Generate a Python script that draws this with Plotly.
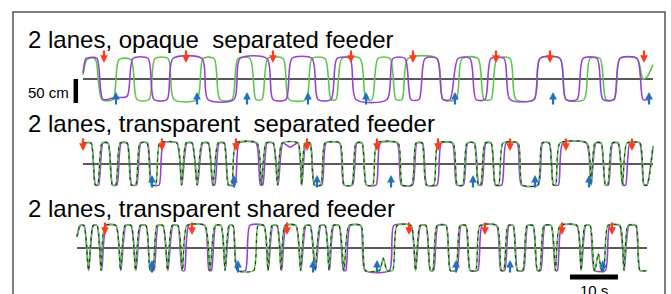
import plotly.graph_objects as go

# ---------------- data (time in s, lane position normalised: +1 far end, -1 near end) -------------
P1_GREEN = [(1.25, 0.2), (2.08, 0.95), (3.33, 1.05), (3.96, 0.9), (5.21, -1), (7.5, -1), (8.75, 0.95), (11.25, 0.95),
            (12.5, -1), (15.0, -1), (16.25, 1), (18.96, 1), (20.21, -1), (25.0, -1), (26.25, 1), (28.54, 1),
            (29.79, -1), (32.29, -1), (33.54, 1), (36.04, 1), (37.29, -1), (38.54, -1), (39.79, 1), (42.92, 1),
            (44.17, -1), (47.71, -1), (48.96, 1), (51.67, 1), (52.92, -1), (53.96, -1), (55.21, 1), (58.96, 1),
            (60.21, -1), (61.46, -1), (62.71, 1), (65.21, 1), (66.46, -1), (67.71, -1), (68.96, 1), (75.0, 1),
            (76.25, -1), (78.96, -1), (80.21, 1), (83.54, 1), (84.79, -1), (86.25, -1), (87.5, 1), (90.21, 1),
            (91.46, -1), (95.21, -1), (96.46, 1), (100.62, 1), (101.87, -1), (105.62, -1), (106.87, 1), (108.96, 1),
            (110.21, -1), (111.87, -1), (113.12, 1), (116.67, 1), (117.92, 0.0), (118.75, 0.1), (120.0, 0.7)]
P1_PURPLE = [(1.25, 0.3), (1.87, 1.0), (2.71, 1.05), (4.17, 1.0), (5.42, -1), (7.92, -0.9), (10.42, -0.85),
             (11.67, 1), (14.79, 1), (16.04, -1), (18.75, -1), (20.0, 1), (26.04, 1), (27.29, -1), (32.71, -1),
             (33.96, 1), (39.58, 1), (40.83, -1), (43.54, -1), (44.79, 1), (48.96, 1), (50.21, -1), (52.92, -1),
             (54.17, 1), (56.87, 1), (58.12, -1), (64.58, -1), (65.83, 1), (68.33, 1), (69.58, -1), (71.25, -1),
             (72.5, 1), (75.0, 1), (76.25, -1), (77.71, -1), (79.37, 1), (81.87, 1), (83.12, -1), (85.0, -1),
             (86.25, 1), (88.96, 1), (90.21, -1), (95.21, -1), (96.46, 1), (100.62, 1), (101.87, -1), (104.17, -1),
             (105.42, 1), (108.33, 1), (109.58, -1), (111.87, -1), (113.12, 1), (116.67, 1), (117.92, -1), (119.0, -1)]

# panels 2 and 3: time spans spent at the far end (top plateaus)
P2_GREEN_TOPS = [(1.25, 2.92), (5.21, 6.46), (8.96, 10.42), (13.12, 14.58), (17.29, 20.83), (22.71, 23.96),
                 (26.04, 27.29), (29.37, 30.62), (33.12, 37.5), (39.37, 40.83), (42.71, 46.04), (47.5, 48.54),
                 (51.67, 54.79), (58.12, 59.37), (62.5, 66.87), (70.62, 71.87), (75.21, 78.33), (81.25, 82.71),
                 (85.0, 86.25), (88.75, 91.87), (96.87, 98.33), (100.62, 106.25), (107.92, 109.17),
                 (111.46, 112.71), (114.58, 117.29)]
P2_PURPLE_TOPS = [(1.25, 2.92), (5.4, 6.5), (9.2, 10.5), (13.3, 14.7), (18.0, 20.8), (22.9, 24.0), (26.2, 27.4),
                  (29.6, 30.7), (33.8, 37.3), (39.6, 40.9), (42.9, 46.0), (47.7, 48.6), (51.9, 54.7), (58.3, 59.4),
                  (63.2, 66.7), (70.8, 72.0), (75.9, 78.2), (81.4, 82.8), (85.2, 86.3), (89.4, 91.7), (97.0, 98.4),
                  (101.2, 106.1), (108.1, 109.2), (111.6, 112.8), (115.2, 117.2)]
P2_TAIL = [(118.12, -1), (118.75, -1), (120.0, 0.85)]
P2_PURPLE_EXTRA = [(44.4, 0.8)]

P3_GREEN_TOPS = [(0.62, 1.46), (3.33, 4.17), (5.83, 8.12), (10.0, 11.25), (13.12, 14.37), (16.67, 17.92),
                 (19.79, 21.04), (22.92, 26.67), (28.75, 30.0), (31.67, 32.5), (37.71, 38.96), (40.62, 41.67),
                 (43.33, 45.62), (47.5, 48.54), (50.62, 51.67), (53.33, 54.58), (56.67, 59.17), (66.67, 69.58),
                 (71.46, 72.71), (75.0, 76.87), (79.79, 81.04), (83.96, 87.5), (89.79, 90.83), (93.75, 95.0),
                 (97.29, 98.75), (100.62, 104.17), (105.83, 106.87), (110.62, 113.12), (114.79, 116.46)]
P3_PURPLE_TOPS = [(0.7, 1.46), (3.4, 4.2), (6.1, 8.1), (10.2, 11.3), (13.3, 14.4), (16.9, 17.9), (20.0, 21.0),
                  (23.3, 26.6), (28.9, 30.0), (31.8, 32.5), (36.0, 38.9), (40.8, 41.7), (43.6, 45.6), (47.7, 48.6),
                  (50.8, 51.7), (53.5, 54.6), (56.9, 59.1), (66.0, 69.5), (71.6, 72.7), (75.2, 76.9), (80.0, 81.0),
                  (84.4, 87.4), (90.0, 90.9), (93.9, 95.0), (97.5, 98.8), (101.0, 104.1), (106.0, 106.9),
                  (111.0, 113.0), (115.0, 116.4)]
P3_HEAD = [(0.0, 0.5)]
P3_TAIL = [(117.29, -1), (118.75, -1)]
P3_GREEN_EXTRA = [(63.0, -1), (63.8, -0.45), (64.6, -1), (107.9, -1), (108.6, -0.25), (109.3, -1)]

# arrows (times in s)
RED_P1 = [5.62, 22.71, 40.83, 57.08, 70.0, 87.29, 98.54, 118.12]
BLUE_P1 = [8.12, 25.0, 35.42, 48.12, 60.21, 78.75, 99.17, 119.17]
RED_P2 = [1.25, 17.71, 33.12, 47.92, 62.5, 75.21, 90.21, 101.87, 115.62]
BLUE_P2 = [15.62, 32.71, 50.0, 65.42, 82.5, 95.42, 106.67]
RED_P3 = [5.83, 23.96, 43.75, 69.17, 85.0, 101.04, 111.46]
BLUE_P3 = [15.62, 33.54, 49.17, 62.5, 78.96, 90.21, 109.58]

TITLES = ["2 lanes, opaque  separated feeder",
          "2 lanes, transparent  separated feeder",
          "2 lanes, transparent shared feeder"]
SCALE_CM = 50          # vertical scale bar (cm)
CM_PER_UNIT = 42.7     # half lane length in cm (one normalised unit)
SCALE_S = 10           # horizontal scale bar (s)
SCALE_S_START = 102.7

# ---------------- layout constants ----------------
W, H = 671, 294
PX_PER_S = 4.8
X0_PX = 77
GREEN = "#5cc64a"
PURPLE = "#9a3fd6"
RED = "#ff3b1a"
BLUE = "#2270c0"
AXIS = "#222222"
FONT = "Liberation Sans, Arial, sans-serif"

# panel geometry: centre line pixel row, pixels per unit
PANELS = [dict(c=79, u=20.5, title_mid=39, red_tip=0.78, blue_tip=-0.63),
          dict(c=164, u=21.0, title_mid=123.5, red_tip=0.62, blue_tip=-0.52),
          dict(c=248, u=22.5, title_mid=208.5, red_tip=0.58, blue_tip=-0.53)]
YR = 1.6


def tops_to_knots(tops, head=(), tail=(), extra=(), tr=0.9):
    pts = list(head)
    for i, (a, b) in enumerate(tops):
        if i > 0:
            pb = tops[i - 1][1]
            if a - pb > 2 * tr + 0.4:
                pts += [(pb + tr, -1), (a - tr, -1)]
            else:
                pts.append(((pb + a) / 2, -1))
        pts += [(a, 1), (b, 1)]
    pts += list(tail)
    pts += list(extra)
    pts.sort(key=lambda p: p[0])
    return [p[0] for p in pts], [p[1] for p in pts]


fig = go.Figure()

series = []
gx, gy = [p[0] for p in P1_GREEN], [p[1] for p in P1_GREEN]
px_, py_ = [p[0] for p in P1_PURPLE], [p[1] for p in P1_PURPLE]
series.append((0, gx, gy, GREEN, 1.6, None, 0.75))
series.append((0, px_, py_, PURPLE, 1.6, None, 0.75))

g2x, g2y = tops_to_knots(P2_GREEN_TOPS, tail=P2_TAIL)
p2x, p2y = tops_to_knots(P2_PURPLE_TOPS, tail=P2_TAIL, extra=P2_PURPLE_EXTRA)
series.append((1, p2x, p2y, PURPLE, 1.6, None, 0.6))
series.append((1, g2x, g2y, GREEN, 1.6, None, 0.6))
series.append((1, g2x, g2y, "#303030", 1.1, "3px,4px", 0.6))

g3x, g3y = tops_to_knots(P3_GREEN_TOPS, head=P3_HEAD, tail=P3_TAIL, extra=P3_GREEN_EXTRA)
p3x, p3y = tops_to_knots(P3_PURPLE_TOPS, head=P3_HEAD, tail=P3_TAIL)
series.append((2, p3x, p3y, PURPLE, 1.6, None, 0.6))
series.append((2, g3x, g3y, GREEN, 1.6, None, 0.6))
series.append((2, g3x, g3y, "#303030", 1.1, "3px,4px", 0.6))

yrefs = ["y", "y2", "y3"]

# centre (axis) lines spanning each panel's recording
for i, xs in enumerate([gx, g2x, g3x]):
    fig.add_trace(go.Scatter(x=[xs[0], xs[-1]], y=[0, 0], mode="lines",
                             line=dict(color=AXIS, width=1.4), yaxis=yrefs[i], hoverinfo="skip"))

for pi, xs, ys, col, w, dash, sm in series:
    fig.add_trace(go.Scatter(x=xs, y=ys, mode="lines",
                             line=dict(color=col, width=w, shape="spline", smoothing=sm, dash=dash),
                             yaxis=yrefs[pi], hoverinfo="skip"))

# scale bars
fig.add_trace(go.Scatter(x=[-0.25, -0.25], y=[0, -SCALE_CM / CM_PER_UNIT], mode="lines",
                         line=dict(color="black", width=4.5), yaxis="y", hoverinfo="skip"))
fig.add_trace(go.Scatter(x=[SCALE_S_START, SCALE_S_START + SCALE_S], y=[-1.29, -1.29], mode="lines",
                         line=dict(color="black", width=5), yaxis="y3", hoverinfo="skip"))

annotations = []
for i, (reds, blues) in enumerate([(RED_P1, BLUE_P1), (RED_P2, BLUE_P2), (RED_P3, BLUE_P3)]):
    P = PANELS[i]
    for t in reds:
        annotations.append(dict(x=t, y=P["red_tip"], xref="x", yref=yrefs[i], text="", showarrow=True,
                                ax=0, ay=-14, arrowhead=2, arrowsize=0.7, arrowwidth=2.2, arrowcolor=RED,
                                standoff=0))
    for t in blues:
        annotations.append(dict(x=t, y=P["blue_tip"], xref="x", yref=yrefs[i], text="", showarrow=True,
                                ax=0, ay=14, arrowhead=2, arrowsize=0.7, arrowwidth=2.2, arrowcolor=BLUE,
                                standoff=0))
    annotations.append(dict(x=26 / W, y=1 - P["title_mid"] / H, xref="paper", yref="paper", text=TITLES[i],
                            showarrow=False, xanchor="left", yanchor="middle",
                            font=dict(family=FONT, size=24, color="black")))

annotations.append(dict(x=71 / W, y=1 - 92 / H, xref="paper", yref="paper", text=f"{SCALE_CM} cm",
                        showarrow=False, xanchor="right", yanchor="middle",
                        font=dict(family=FONT, size=15, color="black")))
annotations.append(dict(x=(SCALE_S_START + SCALE_S / 2), y=-1.29, xref="x", yref="y3", text=f"{SCALE_S} s",
                        showarrow=False, xanchor="center", yanchor="top", yshift=-3,
                        font=dict(family=FONT, size=15, color="black")))

layout_axes = {}
for i, P in enumerate(PANELS):
    top_px = P["c"] - YR * P["u"]
    bot_px = P["c"] + YR * P["u"]
    key = "yaxis" if i == 0 else f"yaxis{i + 1}"
    layout_axes[key] = dict(domain=[1 - bot_px / H, 1 - top_px / H], range=[-YR, YR], visible=False,
                            anchor="x", fixedrange=True)

fig.update_layout(
    width=W, height=H, margin=dict(l=0, r=0, t=0, b=0),
    paper_bgcolor="white", plot_bgcolor="white", showlegend=False,
    xaxis=dict(domain=[0, 1], range=[-X0_PX / PX_PER_S, (W - X0_PX) / PX_PER_S], visible=False,
               fixedrange=True),
    annotations=annotations,
    shapes=[dict(type="rect", xref="paper", yref="paper", x0=13 / W, x1=665 / W, y0=-0.1, y1=1 - 12 / H,
                 line=dict(color="#555555", width=1.5), fillcolor="rgba(0,0,0,0)", layer="below")],
    **layout_axes,
)

fig.write_html("out.html", config={"displayModeBar": False, "staticPlot": True},
               post_script="document.body.style.margin='0';document.body.style.overflow='hidden';")
